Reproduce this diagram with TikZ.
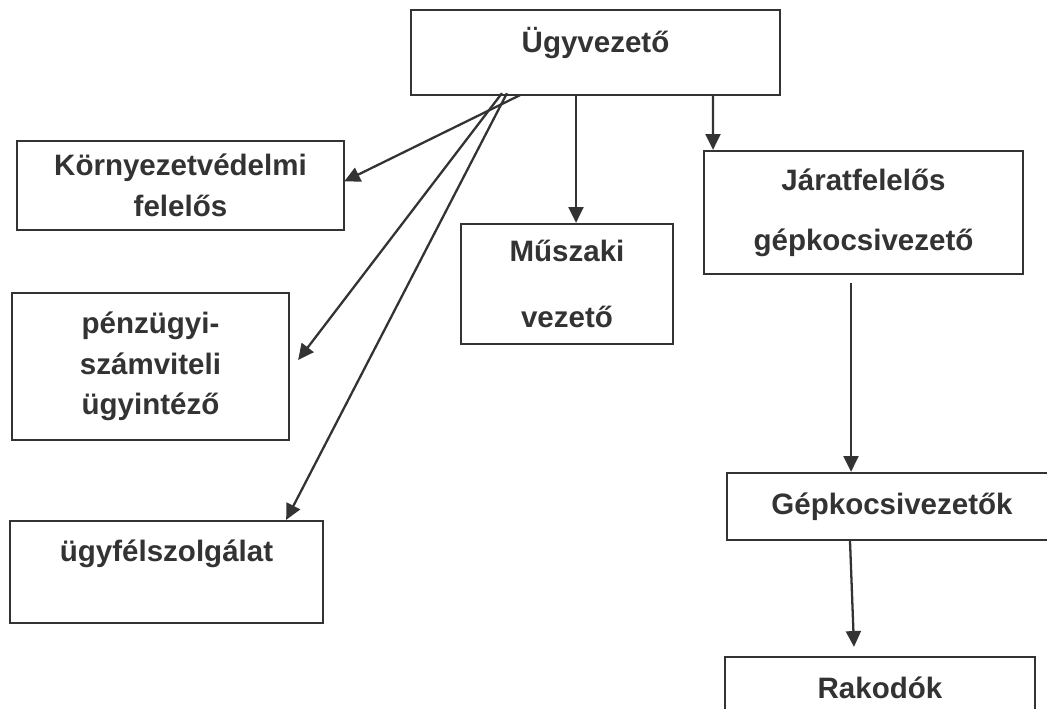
\documentclass[tikz,border=0pt]{standalone}
\usepackage{fontspec}
\setmainfont{Liberation Sans}
\usetikzlibrary{arrows.meta,calc}
\newcommand\boxfont[1]{\fontsize{16.8}{#1}\selectfont\bfseries}
\newcommand\pxu{0.02cm}
\colorlet{ink}{black!80}

\begin{document}
\begin{tikzpicture}[x=0.02cm,y=-0.02cm,>={Triangle[length=9pt,width=8.5pt]},
  box/.style={draw=ink, text=ink, line width=1.3pt, inner sep=0pt, align=center, font=\boxfont{23}},
  link/.style={->, draw=ink, line width=1.3pt}]
  \useasboundingbox (0,0) rectangle (1047,708);
  \clip (0,0) rectangle (1047,708);

  % boxes
  \node[box, minimum width=369*\pxu, minimum height=85*\pxu, text depth=0.5cm] (ugyv) at (595.5,52.5) {Ügyvezető};
  \node[box, minimum width=327*\pxu, minimum height=89*\pxu] (korny) at (180.5,185.5) {Környezetvédelmi\\felelős};
  \node[box, minimum width=277*\pxu, minimum height=147*\pxu] (penz) at (150.5,366.5) {pénzügyi-\\számviteli\\ügyintéző};
  \node[box, minimum width=313*\pxu, minimum height=102*\pxu, text depth=0.86cm] (ugyfel) at (166.5,572) {ügyfélszolgálat};
  \node[box, font=\boxfont{37.4}, minimum width=212*\pxu, minimum height=120*\pxu] (muszaki) at (567,284) {Műszaki\\vezető};
  \node[box, font=\boxfont{34}, minimum width=319*\pxu, minimum height=123*\pxu] (jarat) at (863.5,212.5) {Járatfelelős\\gépkocsivezető};
  \node[box, minimum width=330*\pxu, minimum height=67*\pxu] (gepk) at (892,506.5) {Gépkocsivezetők};
  \node[box, minimum width=310*\pxu, minimum height=62*\pxu] (rakodo) at (880,688) {Rakodók};

  % connectors
  \draw[link] ($(ugyv.south)+(-75.5,-1)$) -- ($(korny.east)+(-1,-4)$);
  \draw[link] ($(ugyv.south)+(-93.5,-3)$) -- ($(penz.east)+(8,-6.5)$);
  \draw[link] ($(ugyv.south)+(-88.5,-3)$) -- ($(ugyfel.north east)+(-38,0)$);
  \draw[link] ($(ugyv.south)+(-19.5,0)$) -- ($(muszaki.north)+(9,0)$);
  \draw[link] ($(ugyv.south)+(117.5,0)$) -- ($(jarat.north)+(-150.5,0)$);
  \draw[link] ($(jarat.south)+(-12.5,8)$) -- ($(gepk.north)+(-41,0)$);
  \draw[link] ($(gepk.south)+(-42,0)$) -- ($(rakodo.north)+(-26,-9)$);
\end{tikzpicture}
\end{document}
